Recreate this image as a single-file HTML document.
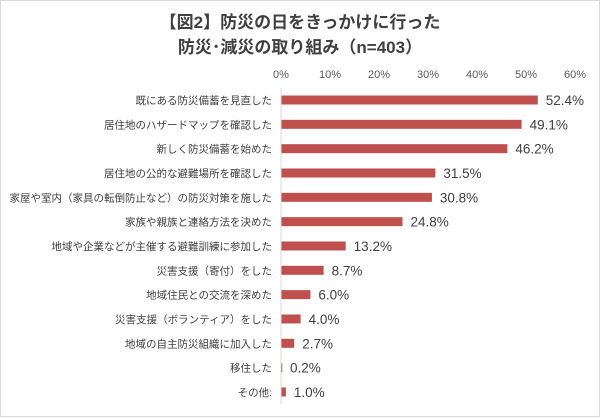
<!DOCTYPE html>
<html><head><meta charset="utf-8"><style>
body{margin:0;background:#fff}
#c{position:relative;width:600px;height:418px;overflow:hidden;font-family:"Liberation Sans","Noto Sans CJK JP",sans-serif}
</style></head><body>
<div id="c">
<svg id="s" width="600" height="418">
<rect x="0.5" y="0.5" width="599" height="416" fill="#fff" stroke="#d9d9d9"/>
<text x="300" y="28" text-anchor="middle" font-size="17" font-weight="bold" fill="#404040">【図2】防災の日をきっかけに行った</text>
<text x="300" y="53" text-anchor="middle" font-size="17" font-weight="bold" fill="#404040">防災･減災の取り組み（n=403）</text>
</svg>
</div>
<script>
const categories=["既にある防災備蓄を見直した","居住地のハザードマップを確認した","新しく防災備蓄を始めた","居住地の公的な避難場所を確認した","家屋や室内（家具の転倒防止など）の防災対策を施した","家族や親族と連絡方法を決めた","地域や企業などが主催する避難訓練に参加した","災害支援（寄付）をした","地域住民との交流を深めた","災害支援（ボランティア）をした","地域の自主防災組織に加入した","移住した","その他:"];
const values=[52.4,49.1,46.2,31.5,30.8,24.8,13.2,8.7,6.0,4.0,2.7,0.2,1.0];
const ticks=[0,10,20,30,40,50,60];
const s=document.getElementById('s');
const NS='http://www.w3.org/2000/svg';
const x=v=>281+v*4.9;
const y=i=>100+i*24.33;
function mk(t,a){const e=document.createElementNS(NS,t);for(const k in a)e.setAttribute(k,a[k]);s.appendChild(e);return e;}
ticks.forEach(t=>{const e=mk('text',{x:x(t),y:78,'text-anchor':'middle','font-size':11,fill:'#595959'});e.textContent=t+'%';

});
const ax=mk('line',{x1:281,x2:281,y1:88,y2:404,stroke:'#d9d9d9'});


categories.forEach((c,i)=>{
const l=mk('text',{x:272,y:y(i)+4,'text-anchor':'end','font-size':10.5,fill:'#404040'});l.textContent=c;


const b=mk('rect',{x:281.5,y:y(i)-4.5,width:Math.max(0.8,x(values[i])-281.5),height:9,fill:'#c0504d'});


const v=mk('text',{x:x(values[i])+8,y:y(i)+5,'font-size':13.5,fill:'#404040'});v.textContent=values[i].toFixed(1)+'%';


});
</script>
</body></html>
